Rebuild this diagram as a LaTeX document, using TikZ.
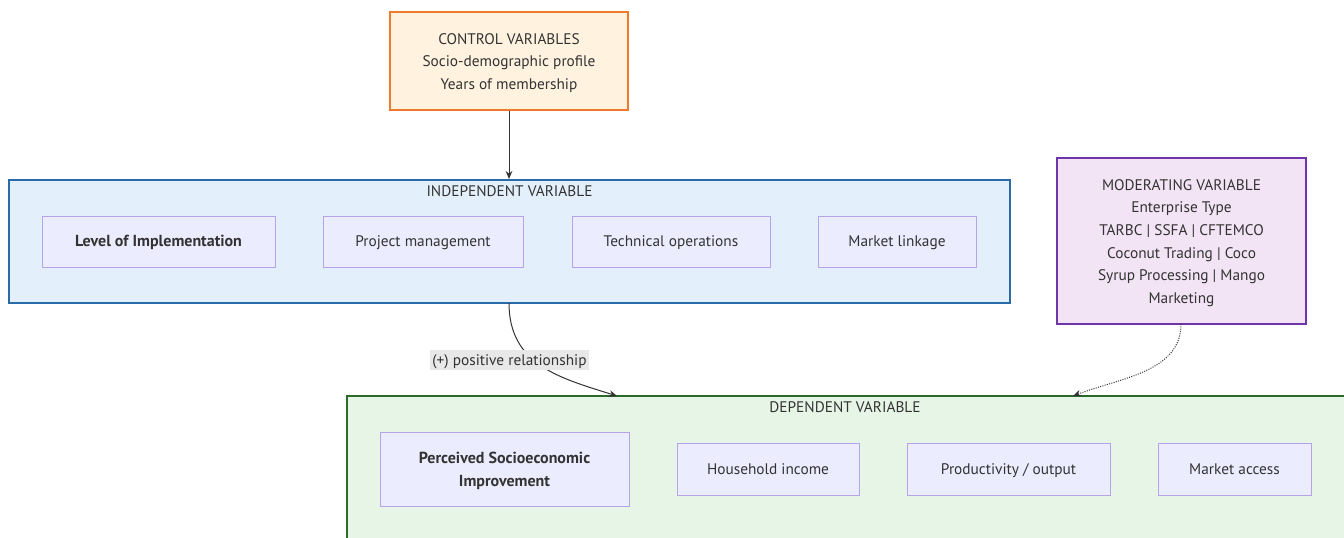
\documentclass[tikz,border=0pt]{standalone}
\usepackage{fontspec}
\setmainfont{PT Sans}
\usetikzlibrary{arrows.meta}
\definecolor{txt}{HTML}{333333}
\definecolor{ctrlfill}{HTML}{FFF3E0}
\definecolor{ctrlline}{HTML}{EF7A2E}
\definecolor{indfill}{HTML}{E3F0FC}
\definecolor{indline}{HTML}{2A6AA8}
\definecolor{modfill}{HTML}{F3E4F5}
\definecolor{modline}{HTML}{6E35A8}
\definecolor{depfill}{HTML}{E7F5E7}
\definecolor{depline}{HTML}{2B6A2B}
\definecolor{itemfill}{HTML}{ECECFF}
\definecolor{itemline}{HTML}{B5A4EA}
\definecolor{lblfill}{HTML}{E8E8E8}
\tikzset{
  base/.style={font=\fontsize{11.5}{17}\selectfont, text=txt, align=center, inner sep=0pt},
  ctrlbox/.style={base, draw=ctrlline, fill=ctrlfill, line width=1.5pt},
  indbox/.style={base, draw=indline, fill=indfill, line width=1.5pt},
  modbox/.style={base, draw=modline, fill=modfill, line width=1.5pt},
  depbox/.style={base, draw=depline, fill=depfill, line width=1.5pt},
  item/.style={base, draw=itemline, fill=itemfill, line width=0.75pt},
  single/.style={text height=8.5pt, text depth=0.5pt},
  boldtext/.style={font=\fontsize{12}{17}\selectfont\bfseries},
  ttl/.style={base, single},
  conn/.style={draw=txt, line width=0.75pt, -{Stealth[length=6pt,width=5pt]}},
}
\begin{document}
\begin{tikzpicture}[x=0.75pt,y=-0.75pt]
\useasboundingbox (0,0) rectangle (1344,537);
\fill[white] (0,0) rectangle (1344,537);
% containers
\node[indbox, minimum width=1001*0.75pt, minimum height=123*0.75pt] (ind) at (509.5,241.5) {};
\node[ttl] (indt) at (509.5,191.5) {INDEPENDENT VARIABLE};
\node[depbox, minimum width=1013*0.75pt, minimum height=170*0.75pt] (dep) at (853.5,481) {};
\node[ttl] (dept) at (845,407.5) {DEPENDENT VARIABLE};
% control
\node[ctrlbox, minimum width=238*0.75pt, minimum height=98*0.75pt] (ctrl) at (509,61) {\rule{0pt}{11pt}CONTROL VARIABLES\\Socio-demographic profile\\Years of membership};
% moderating
\node[modbox, minimum width=249*0.75pt, minimum height=166*0.75pt] (mod) at (1181.5,241) {\rule{0pt}{11pt}MODERATING VARIABLE\\Enterprise Type\\TARBC | SSFA | CFTEMCO\\Coconut Trading | Coco\\Syrup Processing | Mango\\Marketing};
% independent items
\node[item, single, boldtext, minimum width=233*0.75pt, minimum height=51*0.75pt] (loi) at (158.5,241.5) {Level of Implementation};
\node[item, single, minimum width=200*0.75pt, minimum height=51*0.75pt] (pm) at (423,241.5) {Project management};
\node[item, single, minimum width=198*0.75pt, minimum height=51*0.75pt] (to) at (671,241.5) {Technical operations};
\node[item, single, minimum width=158*0.75pt, minimum height=51*0.75pt] (ml) at (897,241.5) {Market linkage};
% dependent items
\node[item, boldtext, minimum width=249*0.75pt, minimum height=74*0.75pt] (pse) at (504.5,469) {\rule{0pt}{11pt}Perceived Socioeconomic\\Improvement};
\node[item, single, minimum width=182*0.75pt, minimum height=52*0.75pt] (hi) at (768,469) {Household income};
\node[item, single, minimum width=203*0.75pt, minimum height=52*0.75pt] (po) at (1008.5,469) {Productivity / output};
\node[item, single, minimum width=153*0.75pt, minimum height=52*0.75pt] (ma) at (1234.5,469) {Market access};
% connectors
\coordinate (indb) at (509,303);
\coordinate (dept1) at (617,396);
\coordinate (modb) at (1181,324);
\coordinate (dept2) at (1073,396);
\draw[conn] (ctrl.south) -- (ctrl.south |- ind.north);
\draw[conn] (indb) .. controls (509,365) and (560,378) .. (dept1);
\draw[conn, densely dotted] (modb) .. controls (1181,372) and (1120,378) .. (dept2);
\node[base, single, fill=lblfill, inner xsep=1.5pt, inner ysep=3pt] (lbl) at (509.5,360) {(+) positive relationship};
\end{tikzpicture}
\end{document}
